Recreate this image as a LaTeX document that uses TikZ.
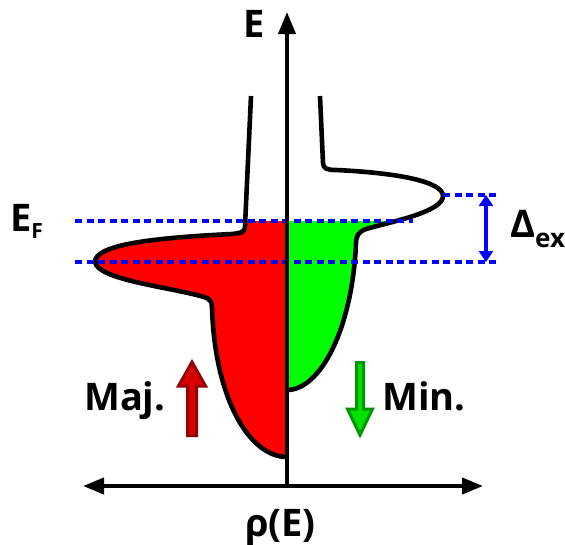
\documentclass[tikz,border=0pt]{standalone}
\usepackage{fontspec}
\setmainfont{Open Sans}
\usetikzlibrary{arrows.meta}

\definecolor{majred}{RGB}{255,0,0}
\definecolor{majdark}{RGB}{150,0,0}
\definecolor{majarrow}{RGB}{215,0,0}
\definecolor{mingreen}{RGB}{0,255,0}
\definecolor{mindark}{RGB}{0,150,0}
\definecolor{minarrow}{RGB}{0,225,0}
\definecolor{levelblue}{RGB}{0,0,255}

\begin{document}
\begin{tikzpicture}[
    x=1pt, y=-1pt,
    axis/.style={line width=4pt, black},
    band/.style={line width=4.6pt, black, line join=round},
    level/.style={line width=3.2pt, levelblue, dash pattern=on 7pt off 4.5pt},
    gap/.style={line width=3.2pt, levelblue, {Triangle[length=11pt,width=14pt]}-{Triangle[length=11pt,width=14pt]}},
    spinup/.style={line width=3pt, draw=majdark, fill=majarrow, line join=miter},
    spindown/.style={line width=3pt, draw=mindark, fill=minarrow, line join=miter},
    lbl/.style={inner sep=0pt, font=\bfseries\fontsize{38}{40}\selectfont},
]
    \useasboundingbox (0,0) rectangle (565,544);

    % Axes end points
    \coordinate (origin) at (287,486);
    \coordinate (etop) at (287,12);
    \coordinate (rholeft) at (83,486);
    \coordinate (rhoright) at (483,486);

    % Majority band (filled up to E_F)
    \begin{scope}
        \clip (0,221) rectangle (287,544);
        \fill[majred] (251,96) -- (245,226) .. controls (245,233) and (240,233) .. (232,234)
            .. controls (150,238) and (95,245) .. (95,262)
            .. controls (98,280) and (170,287) .. (204,297)
            .. controls (210,299) and (212,301) .. (212,308)
            .. controls (215,400) and (250,457) .. (287,457) -- (287,96) -- cycle;
    \end{scope}
    \draw[band] (251,96) -- (245,226) .. controls (245,233) and (240,233) .. (232,234)
        .. controls (150,238) and (95,245) .. (95,262)
        .. controls (98,280) and (170,287) .. (204,297)
        .. controls (210,299) and (212,301) .. (212,308)
        .. controls (215,400) and (250,457) .. (287,457);

    % Minority band (filled up to E_F)
    \begin{scope}
        \clip (287,221) rectangle (565,544);
        \fill[mingreen] (320,96) -- (323,163) .. controls (323,169) and (328,170) .. (336,170)
            .. controls (400,173) and (443,182) .. (443,196)
            .. controls (443,212) and (390,222) .. (366,229)
            .. controls (358,232) and (356,236) .. (356,244)
            .. controls (352,330) and (320,390) .. (287,390) -- (287,96) -- cycle;
    \end{scope}
    \draw[band] (320,96) -- (323,163) .. controls (323,169) and (328,170) .. (336,170)
        .. controls (400,173) and (443,182) .. (443,196)
        .. controls (443,212) and (390,222) .. (366,229)
        .. controls (358,232) and (356,236) .. (356,244)
        .. controls (352,330) and (320,390) .. (287,390);

    % Levels and exchange splitting
    \coordinate (efleft) at (75,221);
    \coordinate (efright) at (413,221);
    \coordinate (majleft) at (75,262);
    \coordinate (majright) at (498,262);
    \coordinate (minleft) at (443,195);
    \coordinate (minright) at (498,195);
    \coordinate (gaptop) at (486,195);
    \coordinate (gapbot) at (486,262);
    \draw[level] (efleft) -- (efright);
    \draw[level] (majleft) -- (majright);
    \draw[level] (minleft) -- (minright);
    \draw[gap] (gaptop) -- (gapbot);

    % Axes
    \draw[axis, -{Triangle[length=22pt,width=17pt]}] (origin) -- (etop);
    \draw[axis, {Triangle[length=21pt,width=16pt]}-{Triangle[length=21pt,width=16pt]}] (rholeft) -- (rhoright);

    % Spin arrows
    \draw[spinup] (192,362) -- (205.5,386) -- (196.5,386) -- (196.5,435.5)
        -- (187.5,435.5) -- (187.5,386) -- (178.5,386) -- cycle;
    \draw[spindown] (360,435) -- (372.5,409) -- (363.5,409) -- (363.5,362.5)
        -- (356.5,362.5) -- (356.5,409) -- (347.5,409) -- cycle;

    % Labels
    \node[lbl, anchor=base west] (elabel) at (243,37) {E};
    \node[lbl, anchor=base west] (rholabel) at (245,536) {ρ(E)};
    \node[lbl, anchor=base west] (eflabel) at (10,231) {E\raisebox{-7pt}{\fontsize{21}{21}\selectfont F}};
    \node[lbl, anchor=base west] (dexlabel) at (510,237) {Δ\raisebox{-10pt}{\fontsize{26}{26}\selectfont ex}};
    \node[lbl, anchor=base west] (majlabel) at (84,410) {Maj.};
    \node[lbl, anchor=base west] (minlabel) at (382,410) {Min.};
\end{tikzpicture}
\end{document}
